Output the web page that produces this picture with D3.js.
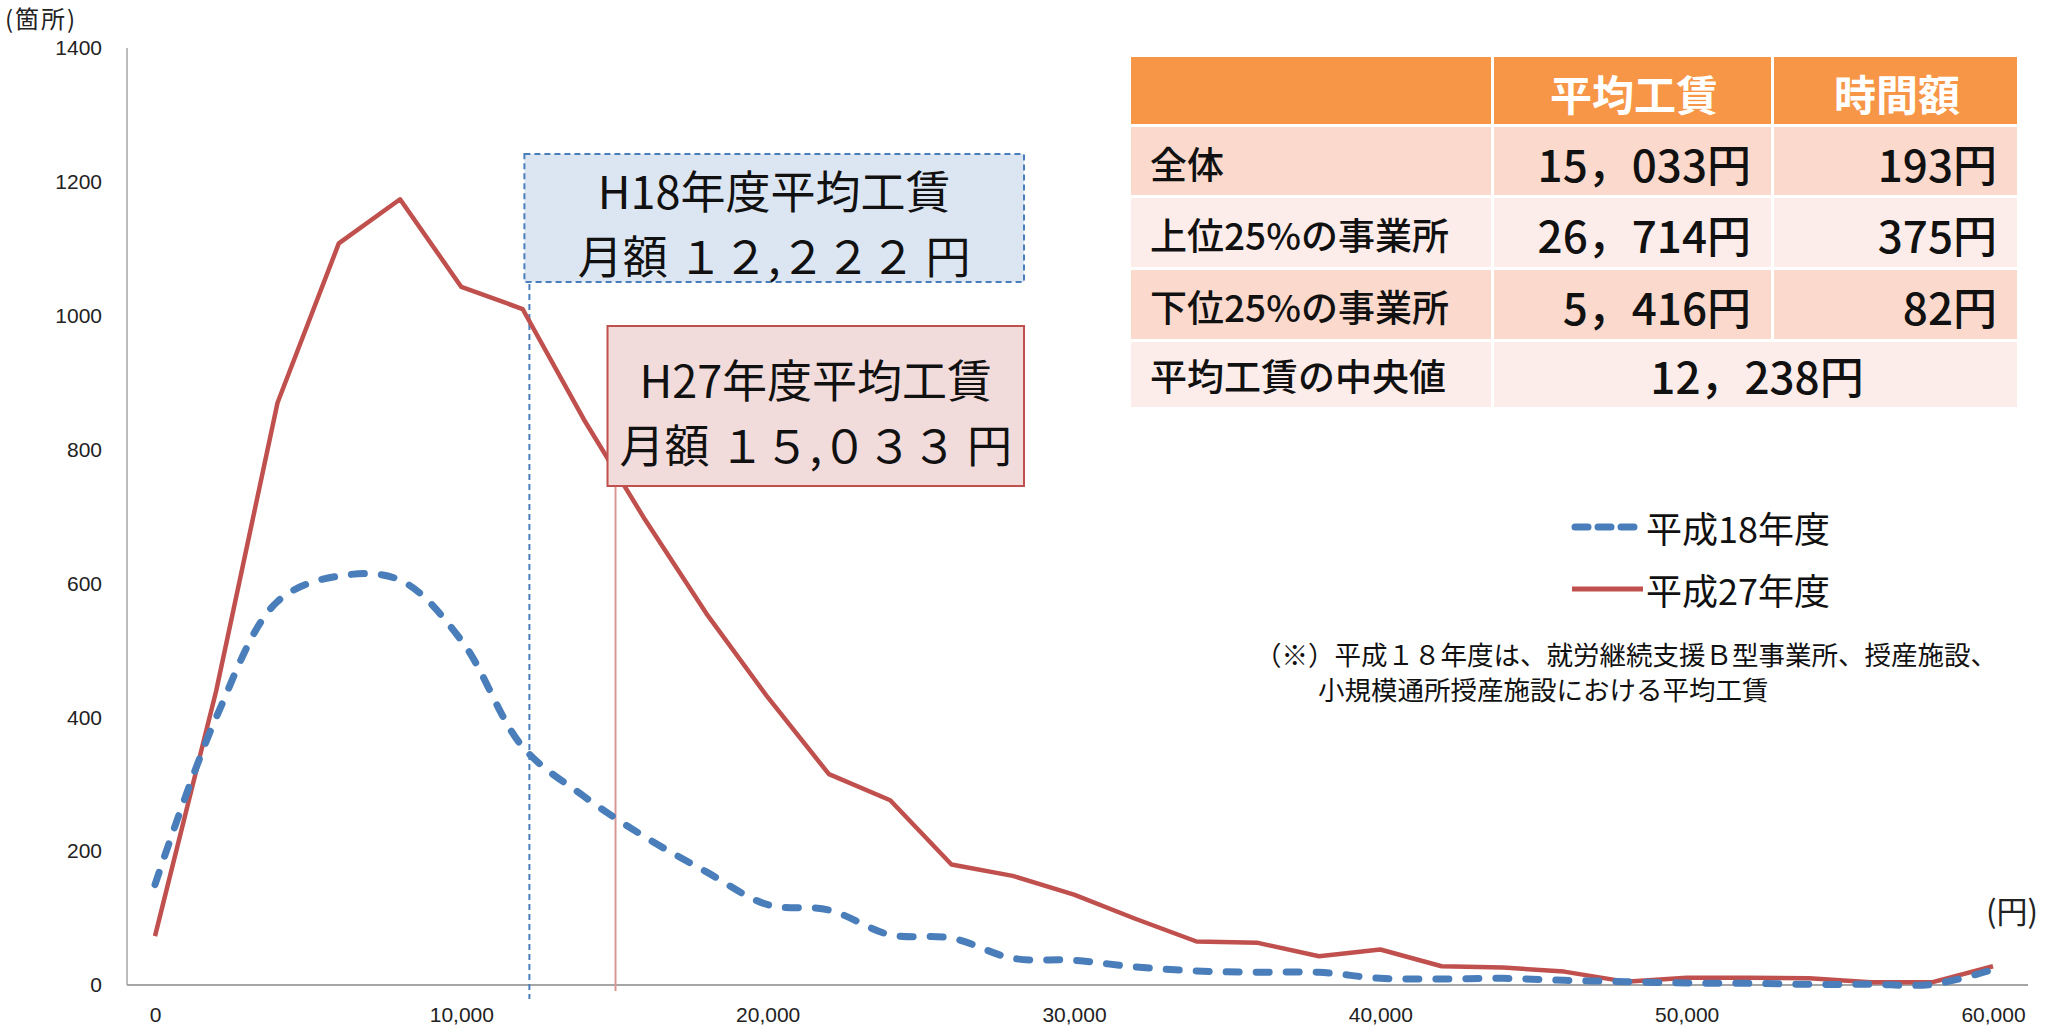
<!DOCTYPE html>
<html lang="ja">
<head>
<meta charset="utf-8">
<script src="https://cdn.jsdelivr.net/npm/d3@7"></script>
<style>
  html, body { margin: 0; padding: 0; background: #fff; }
  svg { display: block; }
  .tick-label { font-family: "Liberation Sans", "DejaVu Sans", sans-serif; fill: #222; }
  .jp { font-family: "Noto Sans CJK JP", "Noto Sans", sans-serif; }
</style>
</head>
<body>
<svg id="chart" width="2045" height="1033"></svg>
<script>
// Monthly wage bins (円) – one category every 2,000円
const wages = [0, 2000, 4000, 6000, 8000, 10000, 12000, 14000, 16000, 18000,
  20000, 22000, 24000, 26000, 28000, 30000, 32000, 34000, 36000, 38000,
  40000, 42000, 44000, 46000, 48000, 50000, 52000, 54000, 56000, 58000, 60000];

// Number of workplaces per bin
const h18Counts = [150, 400, 573, 611, 605, 515, 356, 282, 221, 169,
  120, 112, 75, 70, 40, 37, 27, 21, 19, 19,
  10, 9, 10, 7, 5, 3, 2.5, 1, 1, 1, 23];
const h27Counts = [73, 440, 870, 1108, 1174, 1043, 1010, 845, 695, 555,
  430, 315, 276, 180, 163, 135, 99, 65, 63, 43,
  53, 28, 26, 20, 5, 11, 11, 10, 4, 4, 28];

const yTicks = [0, 200, 400, 600, 800, 1000, 1200, 1400];
const xTicks = [0, 10000, 20000, 30000, 40000, 50000, 60000];

const seriesNames = ["平成18年度", "平成27年度"];
const averages = [12222, 15033];
const averageTitles = ["H18年度平均工賃", "H27年度平均工賃"];
const averageTexts = ["月額 １２,２２２ 円", "月額 １５,０３３ 円"];

const tableHeader = ["", "平均工賃", "時間額"];
const tableRows = [
  ["全体", "15，033円", "193円"],
  ["上位25%の事業所", "26，714円", "375円"],
  ["下位25%の事業所", "5，416円", "82円"],
  ["平均工賃の中央値", "12，238円"]
];
const noteLines = [
  "（※）平成１８年度は、就労継続支援Ｂ型事業所、授産施設、",
  "小規模通所授産施設における平均工賃"
];

const BLUE = "#4a7ebb", RED = "#c0504d", AXIS = "#a6a6a6";

const svg = d3.select("#chart");

const x = d3.scaleLinear().domain([0, 60000]).range([155, 1993]);
const y = d3.scaleLinear().domain([0, 1400]).range([985, 48]);

// axis lines
svg.append("line").attr("x1", 127).attr("x2", 127).attr("y1", y(1400)).attr("y2", y(0))
  .attr("stroke", AXIS).attr("stroke-width", 1.5);
svg.append("line").attr("x1", 127).attr("x2", 2028).attr("y1", y(0)).attr("y2", y(0))
  .attr("stroke", AXIS).attr("stroke-width", 2);

// y axis labels
const yAxis = svg.append("g").attr("transform", "translate(127,0)")
  .call(d3.axisLeft(y).tickValues(yTicks).tickSize(0).tickPadding(25).tickFormat(d3.format("d")));
yAxis.select(".domain").remove();
yAxis.selectAll("text").attr("class", "tick-label").attr("font-size", 21);

// x axis labels
const xAxis = svg.append("g").attr("transform", `translate(0,${y(0)})`)
  .call(d3.axisBottom(x).tickValues(xTicks).tickSize(0).tickPadding(22).tickFormat(d3.format(",")));
xAxis.select(".domain").remove();
xAxis.selectAll("text").attr("class", "tick-label").attr("font-size", 21);

// unit labels
svg.append("text").attr("class", "jp").attr("x", 5).attr("y", 28)
  .attr("font-size", 24).attr("letter-spacing", 2).attr("fill", "#222").text("(箇所)");
svg.append("text").attr("class", "jp").attr("x", 2038).attr("y", 923)
  .attr("text-anchor", "end").attr("font-size", 31)
  .attr("fill", "#222").text("(円)");

// average annotation lines
svg.append("line").attr("x1", x(averages[0])).attr("x2", x(averages[0]))
  .attr("y1", 154).attr("y2", y(0) + 14)
  .attr("stroke", BLUE).attr("stroke-width", 2).attr("stroke-dasharray", "6,4");
svg.append("line").attr("x1", x(averages[1])).attr("x2", x(averages[1]))
  .attr("y1", 358).attr("y2", y(0) + 6)
  .attr("stroke", "#d99694").attr("stroke-width", 2);

// series lines
const line18 = d3.line().x((d, i) => x(wages[i])).y(d => y(d)).curve(d3.curveCatmullRom.alpha(0.5));
const line27 = d3.line().x((d, i) => x(wages[i])).y(d => y(d));

svg.append("path").datum(h27Counts).attr("d", line27)
  .attr("fill", "none").attr("stroke", RED).attr("stroke-width", 4.5).attr("stroke-linejoin", "round");
svg.append("path").datum(h18Counts).attr("d", line18)
  .attr("fill", "none").attr("stroke", BLUE).attr("stroke-width", 7)
  .attr("stroke-dasharray", "13,17").attr("stroke-linecap", "round");

// average boxes
function averageBox(i, left, top, right, bottom, fill, stroke, dash, y1, y2) {
  const g = svg.append("g");
  g.append("rect").attr("x", left).attr("y", top).attr("width", right - left).attr("height", bottom - top)
    .attr("fill", fill).attr("stroke", stroke).attr("stroke-width", 2)
    .attr("stroke-dasharray", dash);
  const cx = (left + right) / 2;
  g.append("text").attr("class", "jp").attr("x", cx).attr("y", y1)
    .attr("text-anchor", "middle").attr("dominant-baseline", "central")
    .attr("font-size", 45).attr("fill", "#111").text(averageTitles[i]);
  g.append("text").attr("class", "jp").attr("x", cx).attr("y", y2)
    .attr("text-anchor", "middle").attr("dominant-baseline", "central")
    .attr("font-size", 45).attr("fill", "#111").text(averageTexts[i]);
}
averageBox(0, x(averages[0]) - 5, 154, 1024, 282, "#dce6f2", BLUE, "6,4", 189, 254);
averageBox(1, x(averages[1]) - 8, 326, 1024, 486, "#f2dcdb", RED, null, 378, 443);

// legend
const legend = svg.append("g");
legend.append("line").attr("x1", 1575).attr("x2", 1640).attr("y1", 527).attr("y2", 527)
  .attr("stroke", BLUE).attr("stroke-width", 7).attr("stroke-dasharray", "13,10").attr("stroke-linecap", "round");
legend.append("line").attr("x1", 1572).attr("x2", 1643).attr("y1", 589).attr("y2", 589)
  .attr("stroke", RED).attr("stroke-width", 5);
legend.selectAll("text.leg").data(seriesNames).join("text")
  .attr("class", "jp leg").attr("x", 1646).attr("y", (d, i) => 527 + i * 62)
  .attr("dominant-baseline", "central").attr("font-size", 36).attr("fill", "#111").text(d => d);

// note
svg.selectAll("text.note").data(noteLines).join("text")
  .attr("class", "jp note").attr("x", (d, i) => i === 0 ? 1255 : 1318).attr("y", (d, i) => 653 + i * 35)
  .attr("dominant-baseline", "central").attr("font-size", 26.5).attr("fill", "#111").text(d => d);

// summary table
const colX = [1131, 1494, 1774, 2020];
const rowY = [57, 127, 198, 270, 342, 407];
const gap = 3;
const bandFill = ["#fbdacd", "#fdedea"];
const table = svg.append("g");

tableHeader.forEach((h, c) => {
  table.append("rect").attr("x", colX[c]).attr("y", rowY[0])
    .attr("width", colX[c + 1] - colX[c] - gap).attr("height", rowY[1] - rowY[0] - gap)
    .attr("fill", "#f79646");
  if (h) table.append("text").attr("class", "jp")
    .attr("x", (colX[c] + colX[c + 1]) / 2).attr("y", (rowY[0] + rowY[1]) / 2)
    .attr("text-anchor", "middle").attr("dominant-baseline", "central")
    .attr("font-size", 42).attr("font-weight", 700).attr("fill", "#fff").text(h);
});

tableRows.forEach((row, r) => {
  const top = rowY[r + 1], bot = rowY[r + 2];
  const fill = bandFill[r % 2];
  const cy = (top + bot) / 2;
  if (row.length === 3) {
    row.forEach((cell, c) => {
      table.append("rect").attr("x", colX[c]).attr("y", top)
        .attr("width", colX[c + 1] - colX[c] - gap).attr("height", bot - top - gap).attr("fill", fill);
      table.append("text").attr("class", "jp")
        .attr("x", c === 0 ? colX[0] + 19 : colX[c + 1] - gap - 20).attr("y", cy)
        .attr("text-anchor", c === 0 ? "start" : "end").attr("dominant-baseline", "central")
        .attr("font-size", c === 0 ? 37 : 44).attr("font-weight", 500).attr("fill", "#111").text(cell);
    });
  } else {
    table.append("rect").attr("x", colX[0]).attr("y", top)
      .attr("width", colX[1] - colX[0] - gap).attr("height", bot - top).attr("fill", fill);
    table.append("rect").attr("x", colX[1]).attr("y", top)
      .attr("width", colX[3] - colX[1] - gap).attr("height", bot - top).attr("fill", fill);
    table.append("text").attr("class", "jp").attr("x", colX[0] + 19).attr("y", cy)
      .attr("dominant-baseline", "central").attr("font-size", 37).attr("font-weight", 500)
      .attr("fill", "#111").text(row[0]);
    table.append("text").attr("class", "jp").attr("x", 1757).attr("y", cy)
      .attr("text-anchor", "middle").attr("dominant-baseline", "central")
      .attr("font-size", 44).attr("font-weight", 500).attr("fill", "#111").text(row[1]);
  }
});
</script>
</body>
</html>
